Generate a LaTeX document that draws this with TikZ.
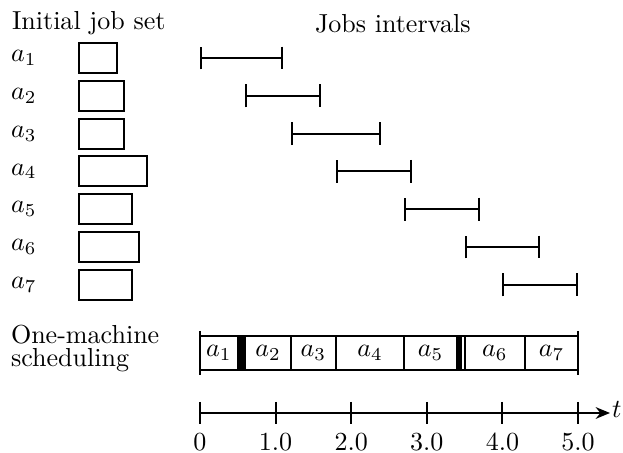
\documentclass[tikz,border=0pt]{standalone}
\usetikzlibrary{arrows.meta}
\begin{document}
\begin{tikzpicture}[x=0.384pt,y=-0.384pt,
  line width=0.77pt,
  lbl/.style={inner sep=0pt},
  jobbox/.style={draw,line width=0.77pt},
  ival/.style={{Bar[width=8.8pt]}-{Bar[width=8.8pt]}},
  blk/.style={fill=black}]
\useasboundingbox (0,0) rectangle (623,453);
% titles
\node[lbl,anchor=base west] (title1) at (11,30) {Initial job set};
\node[lbl,anchor=base west] (title2) at (314,33) {Jobs intervals};
% rows
\foreach \i/\d/\s/\e in {1/0.5/0/1.1, 2/0.6/0.6/1.6, 3/0.6/1.2/2.4, 4/0.9/1.8/2.8, 5/0.7/2.7/3.7, 6/0.8/3.5/4.5, 7/0.7/4.0/5.0}{
  \pgfmathsetmacro{\yy}{58+37.8*(\i-1)}
  \node[lbl,anchor=west] (a\i) at (10,\yy) {$a_{\i}$};
  \draw[jobbox] (79,\yy-15) rectangle ({79+75.6*\d},\yy+15);
  \coordinate (s\i) at ({200+75.6*\s},\yy);
  \coordinate (e\i) at ({200+75.6*\e},\yy);
  \draw[ival] (s\i) -- (e\i);
}
% scheduling
\node[lbl,anchor=base west] (sched1) at (10,344) {One-machine};
\node[lbl,anchor=base west] (sched2) at (10,367) {scheduling};
\fill[blk] ({200+75.6*0.5},336) rectangle ({200+75.6*0.6},370);
\fill[blk] ({200+75.6*3.4},336) rectangle ({200+75.6*3.47},370);
\draw (200,336) -- (578,336);
\draw (200,370) -- (578,370);
\draw (200,331) -- (200,375);
\draw (578,331) -- (578,375);
\foreach \a/\b/\n in {0/0.5/1, 0.6/1.2/2, 1.2/1.8/3, 1.8/2.7/4, 2.7/3.4/5, 3.5/4.3/6, 4.3/5.0/7}{
  \draw ({200+75.6*\a},336) -- ({200+75.6*\a},370);
  \draw ({200+75.6*\b},336) -- ({200+75.6*\b},370);
  \node[lbl] (c\n) at ({200+75.6*(\a+\b)/2},353) {$a_{\n}$};
}
% time axis
\coordinate (ax0) at (200,413);
\coordinate (ax1) at (610,413);
\draw[-{Stealth[length=5.5pt,width=4.5pt]}] (ax0) -- (ax1);
\node[lbl,anchor=base west] (tlab) at (611,418) {$t$};
\foreach \k/\l in {0/0, 1/1.0, 2/2.0, 3/3.0, 4/4.0, 5/5.0}{
  \draw ({200+75.6*\k},402) -- ({200+75.6*\k},424);
  \node[lbl,anchor=base] (n\k) at ({200+75.6*\k},451) {\l};
}
\end{tikzpicture}
\end{document}
